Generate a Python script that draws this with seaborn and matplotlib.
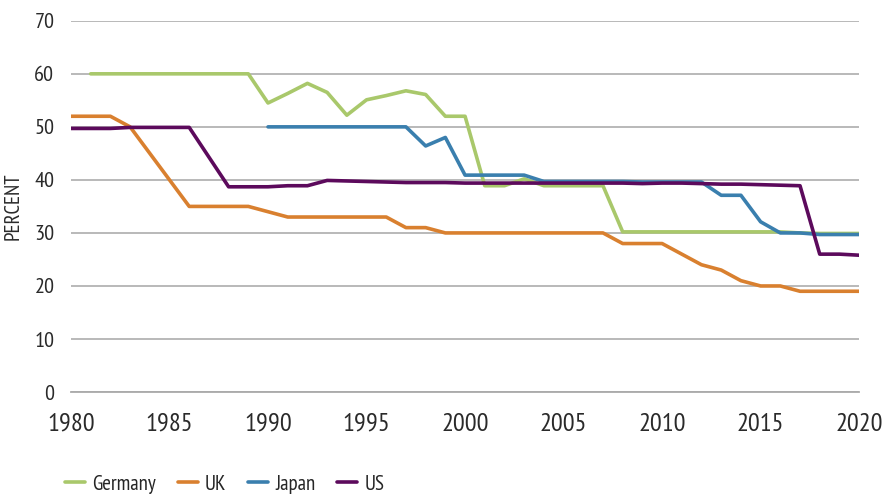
import numpy as np
import pandas as pd
import matplotlib
matplotlib.use("Agg")
import matplotlib.pyplot as plt
import seaborn as sns
from matplotlib import font_manager

# Top marginal income tax rates, percent
years = list(range(1980, 2021))

germany = [np.nan, 60, 60, 60, 60, 60, 60, 60, 60, 60,
           54.5, 56.3, 58.2, 56.5, 52.2, 55.1, 55.9, 56.8, 56.1, 52.0,
           52.0, 38.9, 38.9, 40.2, 38.9, 38.9, 38.9, 38.9, 30.2, 30.2,
           30.2, 30.2, 30.2, 30.2, 30.2, 30.2, 30.2, 30.0, 29.9, 29.9,
           29.9]
uk = [52, 52, 52, 50, 45, 40, 35, 35, 35, 35,
      34, 33, 33, 33, 33, 33, 33, 31, 31, 30,
      30, 30, 30, 30, 30, 30, 30, 30, 28, 28,
      28, 26, 24, 23, 21, 20, 20, 19, 19, 19,
      19]
japan = [np.nan] * 10 + [
      50, 50, 50, 50, 50, 50, 50, 50, 46.4, 48.0,
      40.9, 40.9, 40.9, 40.9, 39.7, 39.7, 39.7, 39.7, 39.7, 39.6,
      39.6, 39.6, 39.6, 37.1, 37.1, 32.1, 30.0, 30.0, 29.7, 29.7,
      29.7]
us = [49.7, 49.7, 49.7, 49.9, 49.9, 49.9, 49.9, np.nan, 38.7, 38.7,
      38.7, 38.9, 38.9, 39.9, 39.8, 39.7, 39.6, 39.5, 39.5, 39.5,
      39.4, 39.4, 39.4, 39.4, 39.4, 39.4, 39.4, 39.4, 39.4, 39.3,
      39.4, 39.4, 39.3, 39.2, 39.2, 39.1, 39.0, 38.9, 26.0, 26.0,
      25.8]

countries = ["Germany", "UK", "Japan", "US"]
colors = ["#a9c86b", "#d9802f", "#3a7fae", "#5c0a5c"]

df = pd.DataFrame({"year": years, "Germany": germany, "UK": uk,
                   "Japan": japan, "US": us})
long = df.melt(id_vars="year", var_name="country", value_name="rate").dropna()

sns.set_style("white")
installed = {f.name for f in font_manager.fontManager.ttflist}
family = next((f for f in ["PT Sans Narrow", "Roboto Condensed", "Fira Sans Condensed"]
               if f in installed), "DejaVu Sans")
plt.rcParams["font.family"] = [family, "DejaVu Sans"]

fig = plt.figure(figsize=(8.94, 4.95), dpi=100)
ax = fig.add_axes([0.0794, 0.208, 0.8816, 0.750])

sns.lineplot(data=long, x="year", y="rate", hue="country",
             hue_order=countries, palette=colors, linewidth=2.6,
             ax=ax, legend=False)

ax.set_xlim(1980, 2020)
ax.set_ylim(0, 70)
ax.set_xticks(range(1980, 2021, 5))
ax.set_yticks(range(0, 71, 10))
ax.tick_params(axis="x", labelsize=19, length=10, width=1.2, color="#aaaaaa",
               direction="out", pad=5, labelcolor="#2a2a2a")
ax.tick_params(axis="y", labelsize=16, length=0, pad=12, labelcolor="#2a2a2a")
ax.yaxis.grid(True, color="#b3b3b3", linewidth=1.3)
ax.set_axisbelow(True)
for side in ["left", "right", "top"]:
    ax.spines[side].set_visible(False)
ax.spines["bottom"].set_color("#aaaaaa")
ax.spines["bottom"].set_linewidth(1.3)
ax.set_xlabel("")
ax.set_ylabel("PERCENT", fontsize=15, color="#2a2a2a", labelpad=8)

handles = [plt.Line2D([], [], color=c, linewidth=2.6) for c in colors]
fig.legend(handles, countries, loc="lower left", bbox_to_anchor=(0.052, -0.035),
           ncol=4, frameon=False, fontsize=15, handlelength=0.95,
           handletextpad=0.35, columnspacing=1.05)

fig.savefig("out.png", dpi=100)
